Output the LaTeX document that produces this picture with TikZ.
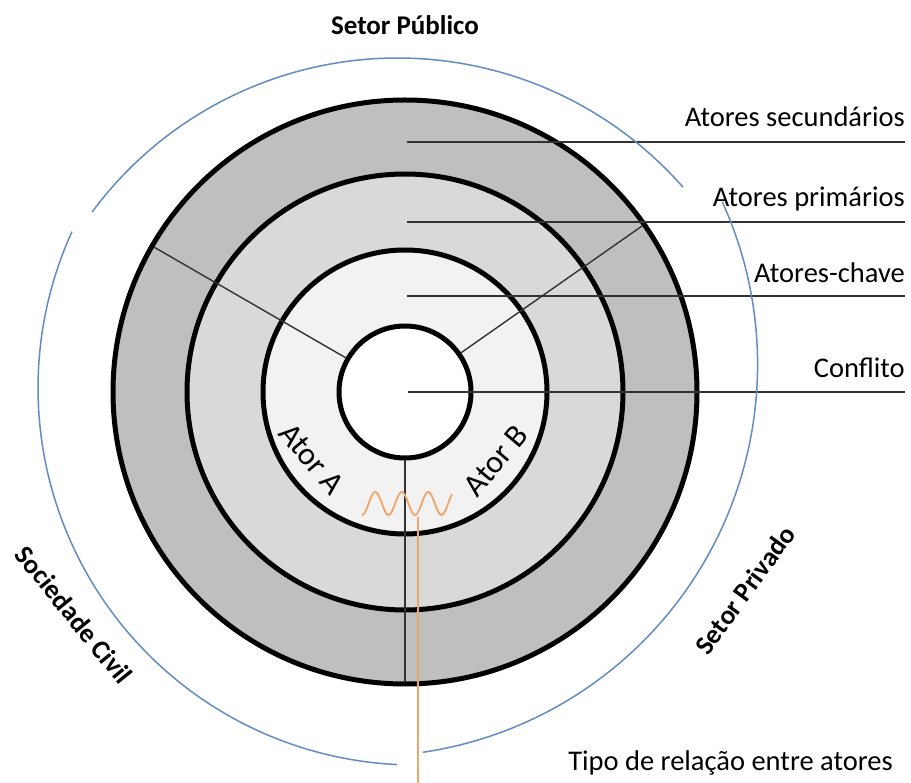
\documentclass[tikz,border=0pt]{standalone}
\usepackage{fontspec}
\setmainfont{Carlito}
\usetikzlibrary{calc}
\definecolor{ringA}{RGB}{191,191,191}
\definecolor{ringB}{RGB}{217,217,217}
\definecolor{ringC}{RGB}{242,242,242}
\definecolor{arcblue}{RGB}{100,140,195}
\definecolor{wave}{RGB}{240,165,105}
\definecolor{leader}{RGB}{50,50,50}
\begin{document}
\begin{tikzpicture}[x=1pt,y=-1pt,
  ringline/.style={draw=black,line width=5pt},
  thinline/.style={draw=leader,line width=1.4pt},
  leaderline/.style={draw=leader,line width=2pt},
  sector/.style={draw=arcblue,line width=1.5pt},
  relline/.style={draw=wave,line width=1.8pt,line join=round},
  lbl/.style={font=\fontsize{28.5pt}{32pt}\selectfont,inner sep=0pt},
  albl/.style={font=\fontsize{32pt}{34pt}\selectfont,inner sep=0pt},
  blbl/.style={font=\fontsize{27pt}{32pt}\selectfont\bfseries,inner sep=0pt}]
\useasboundingbox (0,0) rectangle (911,783);
\fill[white] (0,0) rectangle (911,783);
\coordinate (C) at (405,392);
% rings
\path[ringline,fill=ringA] (C) circle[radius=292];
\path[ringline,fill=ringB] (C) circle[radius=218];
\path[ringline,fill=ringC] (C) circle[radius=142];
\path[ringline,fill=white] (C) circle[radius=66];
% radial dividers
\coordinate (ulo) at ($(C)+(-150:290)$);
\coordinate (uli) at ($(C)+(-150:68)$);
\coordinate (uro) at ($(C)+(-35:290)$);
\coordinate (uri) at ($(C)+(-35:68)$);
\coordinate (bi) at ($(C)+(90:68)$);
\coordinate (bo) at ($(C)+(90:290)$);
\draw[thinline] (ulo) -- (uli);
\draw[thinline] (uro) -- (uri);
\draw[thinline] (bi) -- (bo);
% leader lines and labels
\node[lbl,anchor=base east] (sec) at (905,127) {Atores secundários};
\node[lbl,anchor=base east] (pri) at (905,207) {Atores primários};
\node[lbl,anchor=base east] (cha) at (905,283) {Atores-chave};
\node[lbl,anchor=base east] (con) at (905,378) {Conflito};
\coordinate (secA) at (407,142); \coordinate (secB) at (905,142);
\coordinate (priA) at (407,222); \coordinate (priB) at (905,222);
\coordinate (chaA) at (407,296); \coordinate (chaB) at (905,296);
\coordinate (conA) at (408,392); \coordinate (conB) at (905,392);
\draw[leaderline] (secA) -- (secB);
\draw[leaderline] (priA) -- (priB);
\draw[leaderline] (chaA) -- (chaB);
\draw[leaderline] (conA) -- (conB);
% actors
\node[albl,rotate=-50] (atA) at (312,459) {Ator A};
\node[albl,rotate=50] (atB) at (496,461) {Ator B};
% relation wave
\draw[relline] plot[variable=\t,domain=0:90,samples=91] ({362+\t},{503.5+11.5*cos(13.585*\t)});
\coordinate (relA) at (418,517);
\coordinate (relB) at (418,783);
\draw[relline] (relA) -- (relB);
\node[lbl,anchor=base east] (tipo) at (893,770) {Tipo de relação entre atores};
% sector arcs
\coordinate (Cp) at (397.6,438);
\coordinate (Cc) at (415,388);
\coordinate (Cv) at (365.6,364.5);
\draw[sector] (Cp) ++(-143.5:380) arc[start angle=-143.5,end angle=-41.3,radius=380];
\draw[sector] (Cc) ++(92.7:377) arc[start angle=92.7,end angle=204.5,radius=377];
\draw[sector] (Cv) ++(-24.5:392) arc[start angle=-24.5,end angle=81.6,radius=392];
\node[blbl,anchor=base] (pub) at (405,35) {Setor Público};
\node[blbl,rotate=-51] (civ) at (74,615) {Sociedade Civil};
\node[blbl,rotate=54] (pri2) at (745,590) {Setor Privado};
\end{tikzpicture}
\end{document}
